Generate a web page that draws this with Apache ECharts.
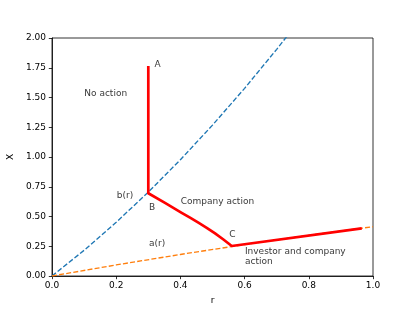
<!DOCTYPE html>
<html>
<head>
<meta charset="utf-8">
<script src="https://cdn.jsdelivr.net/npm/echarts@6/dist/echarts.min.js"></script>
<style>html,body{margin:0;padding:0;background:#fff}#c{width:415px;height:311px}</style>
</head>
<body>
<div id="c"></div>
<script>
// b(r) curve (blue dashed)
const bR = [0, 0.1, 0.2, 0.3, 0.4, 0.5, 0.6, 0.7, 0.75];
const bX = [0, 0.216, 0.451, 0.705, 0.977, 1.268, 1.577, 1.905, 2.076];
// a(r) curve (orange dashed)
const aR = [0, 0.2, 0.4, 0.6, 0.8, 1.0];
const aX = [0, 0.093, 0.181, 0.264, 0.342, 0.414];
// boundary path A-B-C-end (red)
const pathR = [0.3, 0.3, 0.352, 0.404, 0.43, 0.456, 0.482, 0.508, 0.534, 0.56, 0.965];
const pathX = [1.765, 0.695, 0.615, 0.531, 0.491, 0.449, 0.405, 0.358, 0.307, 0.252, 0.40];
// annotations
const labelTexts = ['A', 'No action', 'b(r)', 'B', 'Company action', 'a(r)', 'C', 'Investor and company\naction'];
const labelR = [0.319, 0.1006, 0.2016, 0.302, 0.401, 0.302, 0.552, 0.601];
const labelX = [1.777, 1.529, 0.672, 0.571, 0.624, 0.269, 0.350, 0.165];
const xTicks = [0, 0.2, 0.4, 0.6, 0.8, 1.0];
const yTicks = [0, 0.25, 0.5, 0.75, 1.0, 1.25, 1.5, 1.75, 2.0];

const zip = (xs, ys) => xs.map((x, i) => [x, ys[i]]);
const font = 'DejaVu Sans';

const chart = echarts.init(document.getElementById('c'), null, {renderer: 'canvas'});
chart.setOption({
  animation: false,
  backgroundColor: '#fff',
  textStyle: {fontFamily: font},
  grid: {left: 52, right: 42, top: 38, bottom: 35, containLabel: false, outerBoundsMode: 'none',
         show: true, borderColor: '#000', borderWidth: 0.8, backgroundColor: 'transparent'},
  xAxis: {
    type: 'value', min: xTicks[0], max: xTicks[xTicks.length - 1], interval: 0.2,
    name: 'r', nameLocation: 'middle', nameGap: 20,
    nameTextStyle: {fontFamily: font, fontSize: 9, color: '#000'},
    axisLine: {show: true, onZero: false, lineStyle: {color: '#000', width: 0.8}},
    axisTick: {show: true, inside: false, length: 3.2, lineStyle: {color: '#000', width: 0.8}},
    axisLabel: {fontFamily: font, fontSize: 9, color: '#000', margin: 5, formatter: v => v.toFixed(1)},
    splitLine: {show: false}
  },
  yAxis: {
    type: 'value', min: yTicks[0], max: yTicks[yTicks.length - 1], interval: 0.25,
    name: 'X', nameLocation: 'middle', nameGap: 33, nameRotate: 90,
    nameTextStyle: {fontFamily: font, fontSize: 9, color: '#000'},
    axisLine: {show: true, onZero: false, lineStyle: {color: '#000', width: 0.8}},
    axisTick: {show: true, inside: false, length: 3.2, lineStyle: {color: '#000', width: 0.8}},
    axisLabel: {fontFamily: font, fontSize: 9, color: '#000', margin: 6, formatter: v => v.toFixed(2)},
    splitLine: {show: false}
  },
  series: [
    {
      type: 'line', data: zip(bR, bX), symbol: 'none', clip: true,
      lineStyle: {color: '#1f77b4', width: 1.35, type: [5, 2.2]}
    },
    {
      type: 'line', data: zip(aR, aX), symbol: 'none', clip: true,
      lineStyle: {color: '#ff7f0e', width: 1.35, type: [5, 2.2]}
    },
    {
      type: 'line', data: zip(pathR, pathX), symbol: 'none', clip: true,
      lineStyle: {color: '#ff0000', width: 2.7, join: 'round', cap: 'butt'}
    },
    {
      type: 'scatter', symbolSize: 0, silent: true,
      data: labelTexts.map((t, i) => ({name: t, value: [labelR[i], labelX[i]]})),
      label: {
        show: true, position: 'right', distance: 0, formatter: p => p.name,
        fontFamily: font, fontSize: 9, color: '#000', lineHeight: 10, align: 'left'
      }
    }
  ]
});
</script>
</body>
</html>
